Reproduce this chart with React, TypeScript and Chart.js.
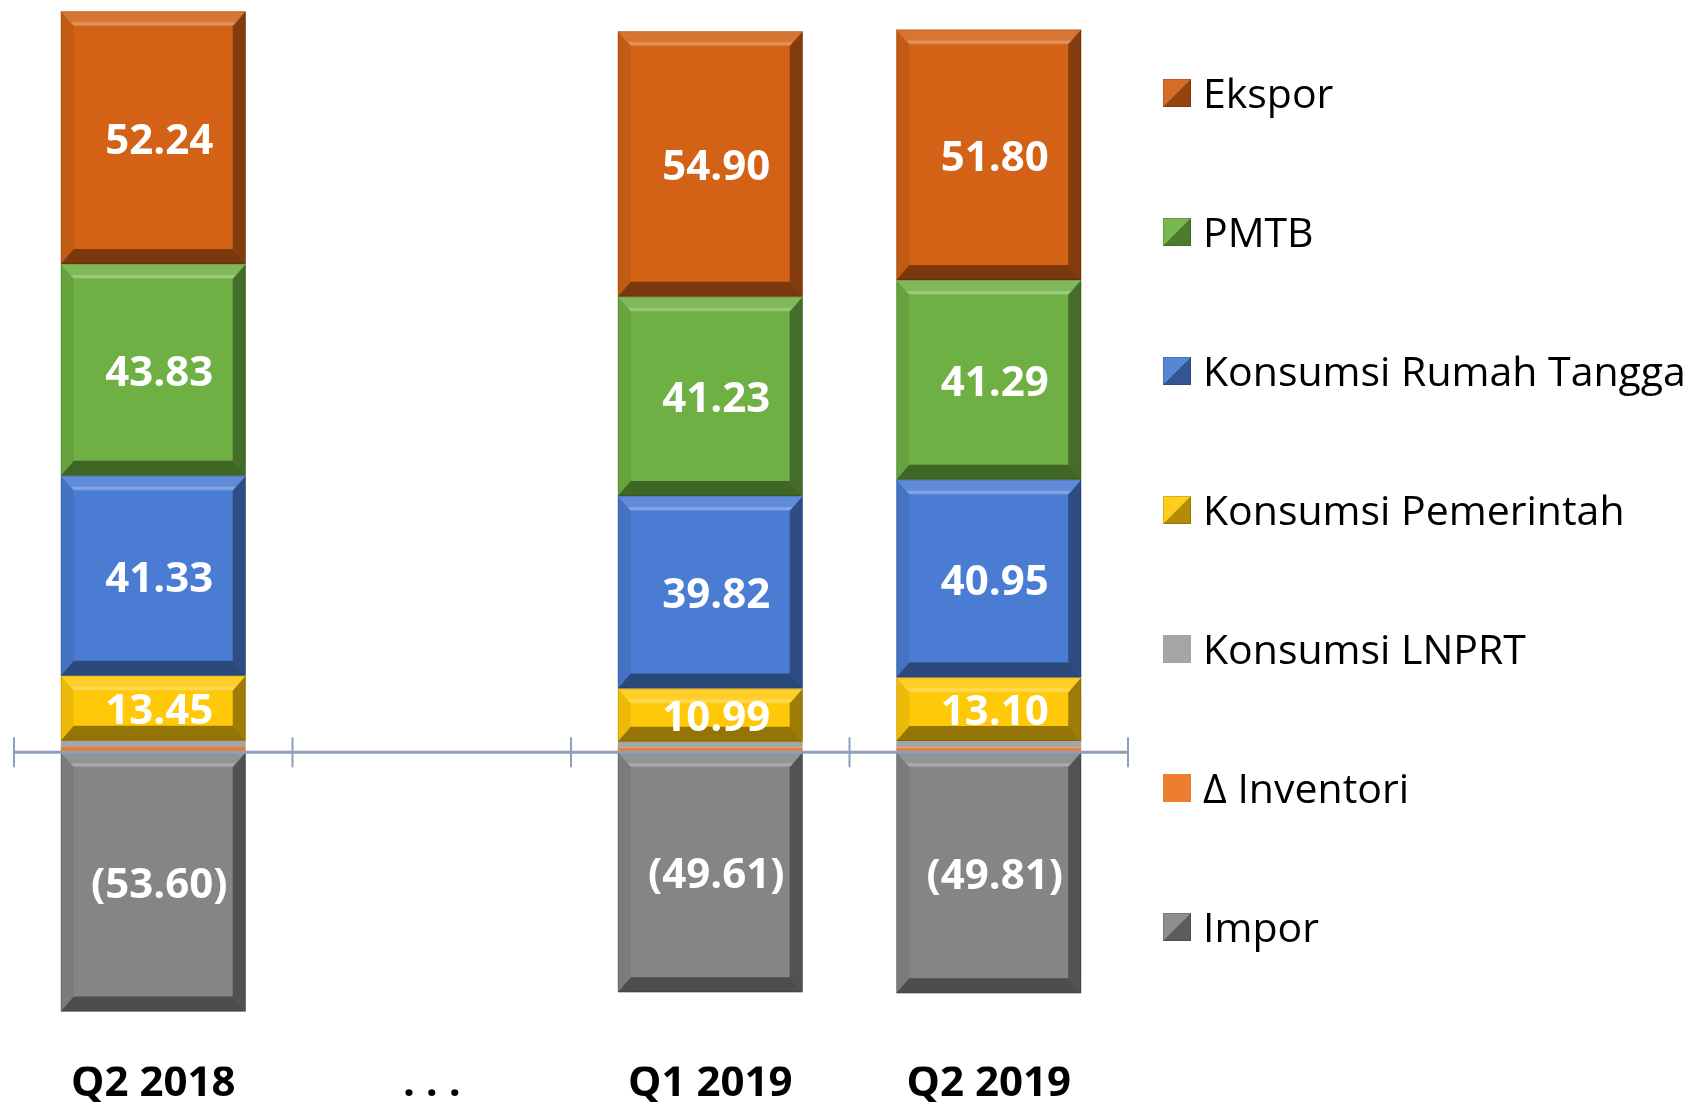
import { useEffect, useRef } from 'react';
import { Chart, registerables } from 'chart.js';

Chart.register(...registerables);

// ---- Data ----
const categories = ['Q2 2018', '. . .', 'Q1 2019', 'Q2 2019'];
const ekspor = [52.24, null, 54.9, 51.8];
const pmtb = [43.83, null, 41.23, 41.29];
const konsumsiRumahTangga = [41.33, null, 39.82, 40.95];
const konsumsiPemerintah = [13.45, null, 10.99, 13.1];
const konsumsiLNPRT = [1.3, null, 1.25, 1.35];
const inventori = [1.1, null, 0.95, 1.0];
const impor = [-53.6, null, -49.61, -49.81];

// legend order (top to bottom)
const legendNames = [
  'Ekspor',
  'PMTB',
  'Konsumsi Rumah Tangga',
  'Konsumsi Pemerintah',
  'Konsumsi LNPRT',
  'Δ Inventori',
  'Impor',
];

const COLORS: Record<string, string> = {
  Ekspor: '#D36216',
  PMTB: '#6EB043',
  'Konsumsi Rumah Tangga': '#4A7CD3',
  'Konsumsi Pemerintah': '#FFC90A',
  'Konsumsi LNPRT': '#A5A5A5',
  'Δ Inventori': '#ED7D31',
  Impor: '#858585',
};
const BEVELED: Record<string, boolean> = {
  Ekspor: true,
  PMTB: true,
  'Konsumsi Rumah Tangga': true,
  'Konsumsi Pemerintah': true,
  'Konsumsi LNPRT': false,
  'Δ Inventori': false,
  Impor: true,
};

const FONT = '"Open Sans", "Noto Sans", sans-serif';

function fmt(v: number) {
  const s = Math.abs(v).toFixed(2);
  return v < 0 ? `(${s})` : s;
}

function poly(ctx: CanvasRenderingContext2D, pts: number[][], fill: string) {
  ctx.beginPath();
  ctx.moveTo(pts[0][0], pts[0][1]);
  for (let i = 1; i < pts.length; i++) ctx.lineTo(pts[i][0], pts[i][1]);
  ctx.closePath();
  ctx.fillStyle = fill;
  ctx.fill();
}

const decorPlugin = {
  id: 'decor',
  afterDatasetsDraw(chart: any) {
    const ctx: CanvasRenderingContext2D = chart.ctx;
    ctx.save();
    // bevels
    chart.data.datasets.forEach((ds: any, di: number) => {
      const meta = chart.getDatasetMeta(di);
      meta.data.forEach((el: any, i: number) => {
        const v = ds.data[i];
        if (v == null) return;
        const p = el.getProps(['x', 'y', 'base', 'width'], true);
        const L = p.x - p.width / 2;
        const R = p.x + p.width / 2;
        const T = Math.min(p.y, p.base);
        const B = Math.max(p.y, p.base);
        const h = B - T;
        if (!BEVELED[ds.label] || h < 20) return;
        const bx = 13;
        const by = Math.min(15, h / 3);
        // left
        poly(ctx, [[L, T], [L + bx, T + by], [L + bx, B - by], [L, B]], 'rgba(0,0,0,0.07)');
        // right
        poly(ctx, [[R, T], [R - bx, T + by], [R - bx, B - by], [R, B]], 'rgba(0,0,0,0.38)');
        // top
        poly(ctx, [[L, T], [R, T], [R - bx, T + by], [L + bx, T + by]], 'rgba(255,255,255,0.12)');
        // top highlight
        poly(ctx, [[L + bx - 3, T + by - 4], [R - bx + 3, T + by - 4], [R - bx, T + by - 1], [L + bx, T + by - 1]], 'rgba(255,255,255,0.22)');
        // bottom
        poly(ctx, [[L, B], [R, B], [R - bx, B - by], [L + bx, B - by]], 'rgba(0,0,0,0.42)');
        // thin outline
        ctx.strokeStyle = 'rgba(0,0,0,0.12)';
        ctx.lineWidth = 1;
        ctx.strokeRect(L + 0.5, T + 0.5, p.width - 1, h - 1);
      });
    });
    // value labels
    ctx.font = `bold 42px ${FONT}`;
    ctx.fillStyle = '#FFFFFF';
    ctx.textAlign = 'center';
    ctx.textBaseline = 'middle';
    chart.data.datasets.forEach((ds: any, di: number) => {
      if (!ds.showValue) return;
      const meta = chart.getDatasetMeta(di);
      meta.data.forEach((el: any, i: number) => {
        const v = ds.data[i];
        if (v == null) return;
        const p = el.getProps(['x', 'y', 'base'], true);
        ctx.fillText(fmt(v), p.x + 6, (p.y + p.base) / 2 + 4);
      });
    });
    // zero axis line with category-boundary ticks
    const xs = chart.scales.x;
    const ys = chart.scales.y;
    const y0 = ys.getPixelForValue(0);
    ctx.strokeStyle = '#8C9FBC';
    ctx.lineWidth = 3;
    ctx.beginPath();
    ctx.moveTo(chart.chartArea.left, y0);
    ctx.lineTo(chart.chartArea.right, y0);
    ctx.stroke();
    ctx.lineWidth = 2;
    const n = categories.length;
    const bounds: number[] = [];
    for (let i = 0; i <= n; i++) {
      const px = i === 0 ? xs.left : i === n ? xs.right
        : (xs.getPixelForValue(i - 1) + xs.getPixelForValue(i)) / 2;
      bounds.push(px);
    }
    bounds.forEach((bx) => {
      ctx.beginPath();
      ctx.moveTo(bx, y0 - 15);
      ctx.lineTo(bx, y0 + 15);
      ctx.stroke();
    });
    ctx.restore();
  },
  afterDraw(chart: any) {
    const ctx: CanvasRenderingContext2D = chart.ctx;
    ctx.save();
    const boxX = 1163;
    const size = 28;
    const y0 = 93;
    const step = 139;
    ctx.font = `41px ${FONT}`;
    ctx.textAlign = 'left';
    ctx.textBaseline = 'middle';
    legendNames.forEach((name, i) => {
      const cy = y0 + i * step;
      const top = cy - size / 2;
      ctx.fillStyle = COLORS[name];
      ctx.fillRect(boxX, top, size, size);
      if (BEVELED[name]) {
        poly(ctx, [[boxX + size, top], [boxX + size, top + size], [boxX, top + size]], 'rgba(0,0,0,0.3)');
        poly(ctx, [[boxX, top], [boxX + size, top], [boxX, top + size]], 'rgba(255,255,255,0.08)');
        ctx.strokeStyle = 'rgba(0,0,0,0.15)';
        ctx.lineWidth = 1;
        ctx.strokeRect(boxX + 0.5, top + 0.5, size - 1, size - 1);
      }
      ctx.fillStyle = '#000000';
      ctx.fillText(name, 1203, cy + 3);
    });
    ctx.restore();
  },
};

export default function App() {
  const ref = useRef<HTMLCanvasElement | null>(null);

  useEffect(() => {
    if (!ref.current) return;
    const mk = (label: string, data: (number | null)[], showValue: boolean) => ({
      label,
      data,
      backgroundColor: COLORS[label],
      borderWidth: 0,
      showValue,
      categoryPercentage: 0.83,
      barPercentage: 0.8,
    });
    const chart = new Chart(ref.current, {
      type: 'bar',
      data: {
        labels: categories,
        datasets: [
          mk('Δ Inventori', inventori, false),
          mk('Konsumsi LNPRT', konsumsiLNPRT, false),
          mk('Konsumsi Pemerintah', konsumsiPemerintah, true),
          mk('Konsumsi Rumah Tangga', konsumsiRumahTangga, true),
          mk('PMTB', pmtb, true),
          mk('Ekspor', ekspor, true),
          mk('Impor', impor, true),
        ] as any,
      },
      options: {
        responsive: false,
        animation: false,
        devicePixelRatio: 1,
        layout: { padding: { left: 14, right: 564, top: 0, bottom: 0 } },
        plugins: {
          legend: { display: false },
          tooltip: { enabled: false },
        },
        scales: {
          x: {
            stacked: true,
            grid: { display: false, drawTicks: false },
            border: { display: false },
            ticks: {
              color: '#000000',
              padding: 3,
              font: { family: FONT, size: 42, weight: 'bold', lineHeight: 0.7 },
              maxRotation: 0,
              autoSkip: false,
            },
          },
          y: {
            stacked: true,
            display: false,
            min: -65.0,
            max: 155.6,
          },
        },
      },
      plugins: [decorPlugin],
    });
    return () => chart.destroy();
  }, []);

  return (
    <div style={{ position: 'fixed', left: 0, top: 0, width: 1692, height: 1102, background: '#ffffff' }}>
      <canvas ref={ref} width={1692} height={1102} style={{ display: 'block' }} />
    </div>
  );
}
